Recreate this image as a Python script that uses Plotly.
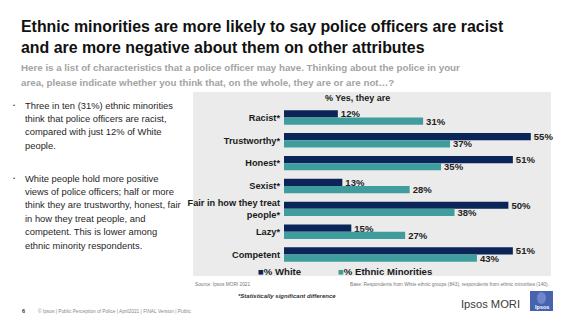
import plotly.graph_objects as go

# ---- data ----
categories = ["Racist*", "Trustworthy*", "Honest*", "Sexist*",
              "Fair in how they treat<br>people*", "Lazy*", "Competent"]
white_pct = [12, 55, 51, 13, 50, 15, 51]
ethnic_minorities_pct = [31, 37, 35, 28, 38, 27, 43]
series_names = ["% White", "% Ethnic Minorities"]

W, H = 573, 323
NAVY = "#0B2559"
TEAL = "#3F9E9D"
FONT = "Liberation Sans, Arial, sans-serif"


def px(x):
    return x / W


def py(y):
    return 1 - y / H


fig = go.Figure()
for name, vals, col in [(series_names[0], white_pct, NAVY),
                        (series_names[1], ethnic_minorities_pct, TEAL)]:
    fig.add_trace(go.Bar(
        y=categories, x=vals, orientation="h", name=name,
        marker=dict(color=col, line=dict(width=0)),
        texttemplate="%{x}%", textposition="outside",
        textfont=dict(family=FONT, size=9.5, color="#222222", weight="bold"),
        constraintext="none", cliponaxis=False, showlegend=False,
    ))

fig.update_layout(
    width=W, height=H, autosize=False,
    margin=dict(l=0, r=0, t=0, b=0),
    paper_bgcolor="white", plot_bgcolor="rgba(0,0,0,0)",
    barmode="group", bargap=0.37, bargroupgap=0,
    font=dict(family=FONT),
    xaxis=dict(domain=[px(284), px(551)], range=[0, 59.5], visible=False,
               fixedrange=True),
    yaxis=dict(domain=[py(266), py(106)], autorange="reversed",
               showgrid=False, zeroline=False, showline=False, ticks="",
               ticklabelstandoff=3,
               tickfont=dict(family=FONT, size=9.2, color="#1A1A1A",
                             weight="bold")),
)

# grey chart panel
fig.add_shape(type="rect", xref="paper", yref="paper",
              x0=px(193), x1=px(551), y0=py(276), y1=py(92),
              fillcolor="#EBEBEB", line=dict(width=0), layer="below")

ann = []


def text(x, y, s, size, color="#1A1A1A", bold=False, italic=False,
         xanchor="left", yanchor="middle", align="left"):
    ann.append(dict(
        x=px(x), y=py(y), xref="paper", yref="paper", text=s,
        showarrow=False, xanchor=xanchor, yanchor=yanchor, align=align,
        font=dict(family=FONT, size=size, color=color,
                  weight="bold" if bold else "normal",
                  style="italic" if italic else "normal"),
    ))


# title and question wording
text(19, 27, "Ethnic minorities are more likely to say police officers are racist", 15.9, "#111111", bold=True)
text(19, 48, "and are more negative about them on other attributes", 15.9, "#111111", bold=True)
text(19, 67.5, "Here is a list of characteristics that a police officer may have. Thinking about the police in your", 9.75, "#A3A3A3", bold=True)
text(19, 82.3, "area, please indicate whether you think that, on the whole, they are or are not\u2026?", 9.75, "#A3A3A3", bold=True)

# commentary bullets
bullet1 = ["Three in ten (31%) ethnic minorities",
           "think that police officers are racist,",
           "compared with just 12% of White",
           "people."]
bullet2 = ["White people hold more positive",
           "views of police officers; half or more",
           "think they are trustworthy, honest, fair",
           "in how they treat people, and",
           "competent. This is lower among",
           "ethnic minority respondents."]
for i, line in enumerate(bullet1):
    text(23, 105 + i * 13.4, line, 9.4, "#262626")
for i, line in enumerate(bullet2):
    text(23, 178 + i * 13.4, line, 9.4, "#262626")
text(11, 105, "\u2022", 6, "#444444")
text(11, 178, "\u2022", 6, "#444444")

# panel header and legend
text(357, 98, "% Yes, they are", 9, "#1A1A1A", bold=True, xanchor="center")
text(256, 271, f"<span style='color:{NAVY}'>\u25A0</span>{series_names[0]}", 9.6, "#1A1A1A", bold=True)
text(336, 271, f"<span style='color:{TEAL}'>\u25A0</span>{series_names[1]}", 9.6, "#1A1A1A", bold=True)

# source, base and footnotes
text(193, 284, "Source: Ipsos MORI 2021", 4.8, "#777777")
text(551, 284, "Base: Respondents from White ethnic groups (843), respondents from ethnic minorities (140).",
     4.8, "#777777", xanchor="right")
text(236, 296, "*Statistically significant difference", 6, "#333333", bold=True, italic=True)
text(20, 311, "6", 5.5, "#333333", bold=True)
text(36, 311, "\u00A9 Ipsos | Public Perception of Police | April2021 | FINAL Version | Public", 4.8, "#888888")

# brand mark
text(522, 304, "Ipsos MORI", 11.2, "#3A3A3A", xanchor="right")
fig.add_shape(type="rect", xref="paper", yref="paper",
              x0=px(530), x1=px(553), y0=py(311), y1=py(291),
              fillcolor="#4763B0", line=dict(width=0))
fig.add_shape(type="circle", xref="paper", yref="paper",
              x0=px(537), x1=px(546), y0=py(304), y1=py(292),
              fillcolor="#6F86C8", line=dict(width=0))
text(541.5, 306.5, "Ipsos", 5.5, "white", bold=True, xanchor="center")

fig.update_layout(annotations=ann)
fig.write_html("out.html")
